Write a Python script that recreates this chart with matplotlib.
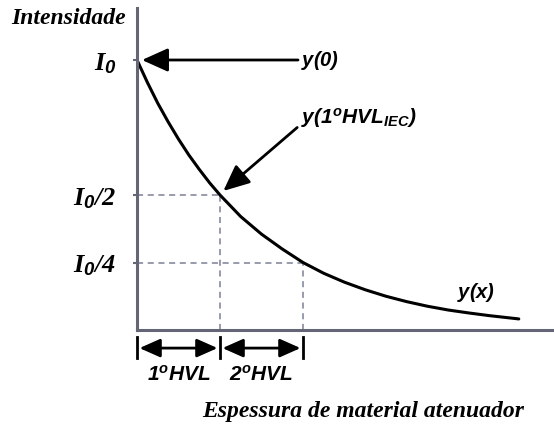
import matplotlib
matplotlib.use("Agg")
import matplotlib.pyplot as plt

# thickness in HVL units, intensity in units of I0
espessura = [0, 0.125, 0.25, 0.375, 0.5, 0.625, 0.75, 0.875, 1.0, 1.25, 1.5,
             1.75, 2.0, 2.25, 2.5, 2.75, 3.0, 3.25, 3.5, 3.75, 4.0, 4.25, 4.6]
intensidade = [1.0, 0.917, 0.84, 0.771, 0.707, 0.648, 0.595, 0.545, 0.5, 0.42,
               0.355, 0.30, 0.25, 0.21, 0.177, 0.149, 0.125, 0.105, 0.088,
               0.074, 0.063, 0.053, 0.041]

hvl_marks = [1.0, 2.0]
level_marks = [0.5, 0.25]
ytick_pos = [1.0, 0.5, 0.25]
ytick_labels = [r"$\mathit{I}_{\mathsf{0}}$",
                r"$\mathit{I}_{\mathsf{0}}\mathit{/2}$",
                r"$\mathit{I}_{\mathsf{0}}\mathit{/4}$"]
hvl_labels = [r"$\mathsf{1^{o}HVL}$", r"$\mathsf{2^{o}HVL}$"]

plt.rcParams["mathtext.fontset"] = "custom"
plt.rcParams["mathtext.it"] = "Liberation Serif:style=italic:weight=bold"
plt.rcParams["mathtext.rm"] = "Liberation Serif:style=italic:weight=bold"
plt.rcParams["mathtext.sf"] = "Liberation Sans:style=italic:weight=bold"

axis_col = "#656675"
grid_col = "#7c8096"

fig = plt.figure(figsize=(5.54, 4.30), dpi=100)
ax = fig.add_axes([137 / 554, 100 / 430, 417 / 554, 322 / 430])
ax.set_xlim(0, 417 / 83)
ax.set_ylim(0, 322 / 270)

for s in ["top", "right"]:
    ax.spines[s].set_visible(False)
for s in ["left", "bottom"]:
    ax.spines[s].set_color(axis_col)
    ax.spines[s].set_linewidth(2.2)

# dashed guides
for x, y in zip(hvl_marks, level_marks):
    ax.plot([0, x], [y, y], ls=(0, (4, 3)), color=grid_col, lw=1.1)
    ax.plot([x, x], [0, y], ls=(0, (4, 3)), color=grid_col, lw=1.1)

ax.plot(espessura, intensidade, color="black", lw=2.2, solid_capstyle="round")

ax.set_xticks([])
ax.set_yticks(ytick_pos, labels=ytick_labels, fontsize=19)
ax.tick_params(axis="y", length=3, width=1.5, color=axis_col, pad=12)

arrow_kw = dict(arrowstyle="-|>,head_length=1.0,head_width=0.45",
                color="black", lw=2.0, mutation_scale=16, shrinkA=0, shrinkB=0)
ax.annotate("", xy=(0.06, 1.0), xytext=(1.94, 1.0), arrowprops=arrow_kw)
ax.text(1.98, 1.0, r"$\mathsf{y(0)}$", fontsize=14.5, va="center", ha="left")
ax.annotate("", xy=(1.04, 0.515), xytext=(1.93, 0.75), arrowprops=arrow_kw)
ax.text(1.98, 0.785, r"$\mathsf{y(1^{o}HVL}_{\mathsf{IEC}}\mathsf{)}$",
        fontsize=15, va="center", ha="left")
ax.text(3.85, 0.14, r"$\mathsf{y(x)}$", fontsize=14.5, va="center", ha="left")

# dimension arrows below the axis
dim_kw = dict(arrowstyle="<|-|>,head_length=0.9,head_width=0.4",
              color="black", lw=2.0, mutation_scale=14, shrinkA=0, shrinkB=0)
edges = [0.0] + hvl_marks
for x in edges:
    ax.plot([x, x], [-0.026, -0.104], color="black", lw=2.0, clip_on=False)
for i in range(len(hvl_marks)):
    ax.annotate("", xy=(edges[i] + 0.03, -0.067), xytext=(edges[i + 1] - 0.03, -0.067),
                arrowprops=dim_kw, annotation_clip=False)
    ax.text((edges[i] + edges[i + 1]) / 2, -0.167, hvl_labels[i], fontsize=15,
            ha="center", va="center")

fig.text(69 / 554, 1 - 18 / 430, "Intensidade", family="Liberation Serif",
         style="italic", weight="bold", fontsize=17, ha="center", va="center")
fig.text(363 / 554, 1 - 412 / 430, "Espessura de material atenuador",
         family="Liberation Serif", style="italic", weight="bold", fontsize=17,
         ha="center", va="center")

fig.savefig("out.png", dpi=100)
